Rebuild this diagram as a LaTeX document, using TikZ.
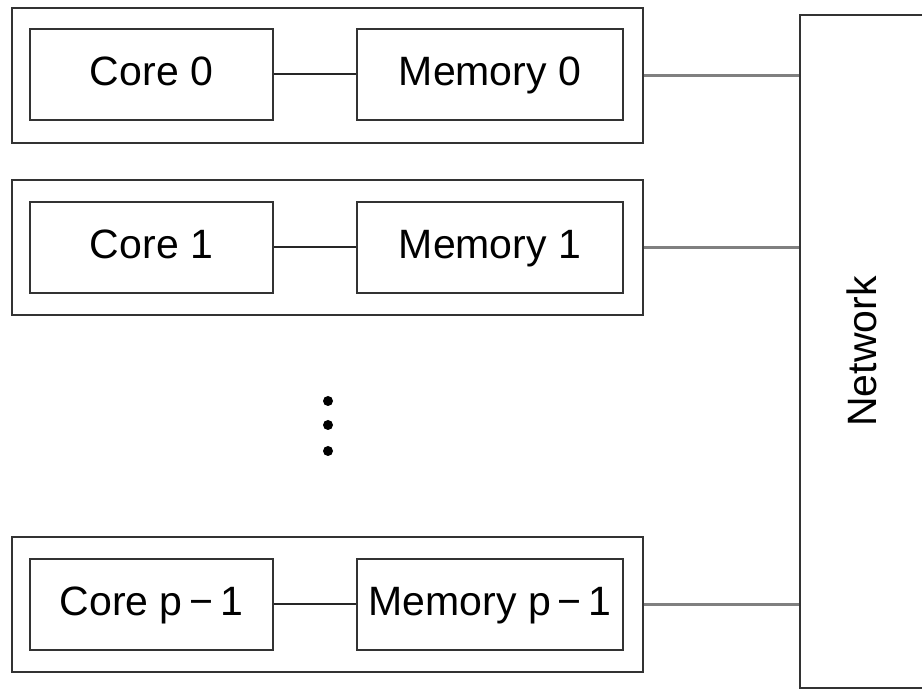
\documentclass[tikz,border=0pt]{standalone}
\usepackage{fontspec}
\setmainfont{Liberation Sans}
\usetikzlibrary{calc}

\tikzset{
  box/.style={draw=black!80, line width=1pt, inner sep=0pt, minimum width=121.5pt, minimum height=45.5pt, text height=14.7pt, text depth=3.2pt, font=\fontsize{20.5}{24}\selectfont},
  outer/.style={draw=black!80, line width=1pt, minimum width=315.5pt, minimum height=67.5pt},
  netbox/.style={draw=black!80, line width=1pt, rotate=90, minimum width=336.5pt, minimum height=61.75pt, font=\fontsize{20.5}{24}\selectfont},
  link/.style={draw=black!85, line width=1pt},
  bus/.style={draw=black!50, line width=1.2pt},
}

\begin{document}
\begin{tikzpicture}[x=0.5pt,y=-0.5pt]
		\useasboundingbox (0,0) rectangle (922,689);
		\clip (0,0) rectangle (922,689);
		% one row per core
		\node[outer] (row0) at (327.5,75.5) {};
		\node[box] (core0) at (151.5,74.5) {Core 0};
		\node[box, minimum width=133pt] (mem0) at (490,74.5) {Memory 0};
		\node[outer] (row1) at (327.5,247.5) {};
		\node[box] (core1) at (151.5,247.5) {Core 1};
		\node[box, minimum width=133pt] (mem1) at (490,247.5) {Memory 1};
		\node[outer] (rowp) at (327.5,604.5) {};
		\node[box] (corep) at (151.5,604.5) {Core p\,−\,1};
		\node[box, minimum width=133pt] (memp) at (490,604.5) {Memory p\,−\,1};
		% network, right side runs off the page
		\node[netbox] (net) at (861.75,351.5) {Network};
		\fill (328,401) circle (2.5pt);
		\fill (328,425) circle (2.5pt);
		\fill (328,451) circle (2.5pt);
		\draw[link] (core0) -- (mem0);
		\draw[link] (core1) -- (mem1);
		\draw[link] (corep) -- (memp);
		\draw[bus] (row0.east) -- (row0.east -| net.north); % net is turned, north is its left side
		\draw[bus] (row1.east) -- (row1.east -| net.north);
		\draw[bus] (rowp.east) -- (rowp.east -| net.north);
\end{tikzpicture}
\end{document}
